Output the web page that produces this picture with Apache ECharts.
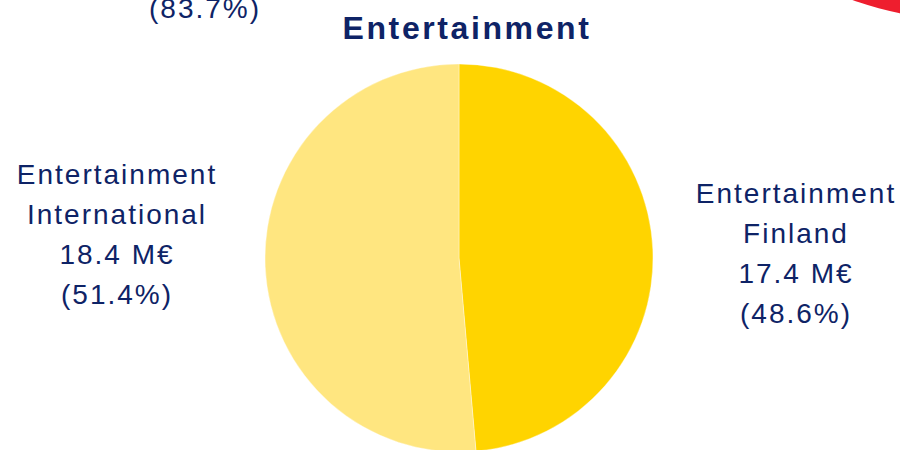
<!DOCTYPE html>
<html>
<head>
<meta charset="utf-8">
<title>Entertainment</title>
<script src="https://cdn.jsdelivr.net/npm/echarts@6/dist/echarts.min.js"></script>
<style>
  html, body { margin: 0; padding: 0; background: #ffffff; }
  #chart { width: 900px; height: 450px; }
  #chart text { letter-spacing: 2px; }
  #chart text[style*="bold"] { letter-spacing: 2.6px; }
</style>
</head>
<body>
<div id="chart"></div>
<script>
// Segment revenue split
const categories = ['Entertainment\nFinland', 'Entertainment\nInternational'];
const revenueMEur = [17.4, 18.4];
const sliceColors = ['#FFD400', '#FFE680'];

// Neighbouring panel (only its edge shows)
const neighbourShareLabel = '(83.7%)';
const neighbourValues = [83.7];

const titleText = 'Entertainment';
const textColor = '#0E2366';

// Where each segment's label block sits
const labelAnchors = [
  { x: 796, y: 253 },
  { x: 117, y: 234 }
];

const chart = echarts.init(document.getElementById('chart'), null, { renderer: 'svg' });

chart.setOption({
  backgroundColor: '#ffffff',
  animation: false,
  title: [
    {
      text: titleText,
      left: 462,
      top: 7,
      textAlign: 'center',
      textStyle: {
        color: textColor,
        fontFamily: 'Liberation Sans, Arial, sans-serif',
        fontWeight: 'bold',
        fontSize: 32
      }
    },
    {
      text: neighbourShareLabel,
      left: 200,
      top: -11,
      textAlign: 'center',
      textStyle: {
        color: textColor,
        fontFamily: 'Liberation Sans, Arial, sans-serif',
        fontWeight: 'normal',
        fontSize: 28
      }
    }
  ],
  series: [
    {
      type: 'pie',
      center: [459, 258],
      radius: 194,
      startAngle: 90,
      clockwise: true,
      silent: true,
      itemStyle: { borderColor: 'rgba(255,255,255,0.6)', borderWidth: 0.6 },
      label: {
        show: true,
        position: 'outside',
        color: textColor,
        fontFamily: 'Liberation Sans, Arial, sans-serif',
        fontSize: 28,
        lineHeight: 40,
        align: 'center',
        formatter: p => `${p.name}\n${p.value} M€\n(${p.percent.toFixed(1)}%)`
      },
      labelLine: { show: false },
      labelLayout: p => ({
        x: labelAnchors[p.dataIndex].x,
        y: labelAnchors[p.dataIndex].y,
        align: 'center',
        verticalAlign: 'middle'
      }),
      data: categories.map((name, i) => ({
        name,
        value: revenueMEur[i],
        itemStyle: { color: sliceColors[i] }
      }))
    },
    {
      type: 'pie',
      center: [960, -295],
      radius: 314,
      silent: true,
      label: { show: false },
      labelLine: { show: false },
      itemStyle: { color: '#EE1E2E' },
      data: neighbourValues.map(v => ({ value: v }))
    }
  ]
});
</script>
</body>
</html>
